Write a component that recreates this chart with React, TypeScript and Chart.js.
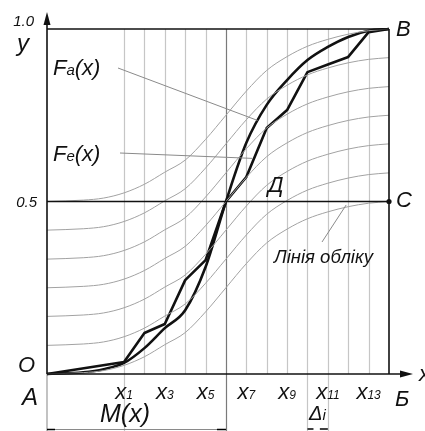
import React, { useEffect, useRef } from "react";
import { Chart, registerables } from "chart.js";

Chart.register(...registerables);

// Grid positions (in units of the x_i grid step); A is at the left edge
const gridIndex = [-2.78, -1, 0, 1, 2, 3, 4, 5, 6, 7, 8, 9, 10, 11, 12, 13, 14];
// Smooth theoretical distribution F_a(x)
const faValues = [0, 0.005, 0.014, 0.032, 0.075, 0.133, 0.185, 0.31, 0.5, 0.67, 0.78, 0.852, 0.91, 0.948, 0.977, 0.995, 1];
// Empirical distribution F_e(x) (polyline)
const feIndex = [-2.78, 1, 2, 3, 4, 5, 6, 7, 8, 9, 10, 11, 12, 13, 14];
const feValues = [0, 0.035, 0.119, 0.145, 0.272, 0.33, 0.5, 0.571, 0.713, 0.765, 0.875, 0.897, 0.919, 0.991, 1];
// Family of thin "accounting lines": base curve and its vertical offsets
const baseCurve = [0, 0.004, 0.01, 0.025, 0.05, 0.085, 0.12, 0.18, 0.25, 0.32, 0.38, 0.42, 0.45, 0.47, 0.485, 0.495, 0.5];
const curveOffsets = [0, 0.083, 0.167, 0.25, 0.333, 0.417, 0.5];
// Vertical grid lines x_1..x_13, labelled ones, mean M(x), and Δi interval
const gridLines = [1, 2, 3, 4, 5, 6, 7, 8, 9, 10, 11, 12, 13];
const labelledTicks = [1, 3, 5, 7, 9, 11, 13];
const meanIndex = 6;
const deltaInterval = [10, 11];
const xMin = -2.78;
const xMax = 14;

const FONT = '"Liberation Sans", Arial, sans-serif';

function font(size: number) {
  return `italic ${size}px ${FONT}`;
}

function drawComposite(
  ctx: CanvasRenderingContext2D,
  parts: [string, number][],
  x: number,
  baseline: number,
  align: "left" | "center"
) {
  let total = 0;
  for (const [t, s] of parts) {
    ctx.font = font(s);
    total += ctx.measureText(t).width;
  }
  let cx = align === "center" ? x - total / 2 : x;
  ctx.textAlign = "left";
  ctx.textBaseline = "alphabetic";
  for (const [t, s] of parts) {
    ctx.font = font(s);
    ctx.fillText(t, cx, baseline);
    cx += ctx.measureText(t).width;
  }
}

function line(ctx: CanvasRenderingContext2D, x1: number, y1: number, x2: number, y2: number, color: string, w: number) {
  ctx.save();
  ctx.strokeStyle = color;
  ctx.lineWidth = w;
  ctx.beginPath();
  ctx.moveTo(x1, y1);
  ctx.lineTo(x2, y2);
  ctx.stroke();
  ctx.restore();
}

const decorPlugin = {
  id: "decor",
  beforeDatasetsDraw(chart: any) {
    const { ctx, chartArea: a, scales } = chart;
    const xs = scales.x;
    const H = chart.height;
    for (const g of gridLines) {
      const px = Math.round(xs.getPixelForValue(g)) + 0.5;
      const isMean = g === meanIndex;
      const extend = g === 1 || isMean || deltaInterval.includes(g);
      line(ctx, px, a.top, px, extend ? H : a.bottom, isMean ? "#7a7a7a" : "#c6c6c6", 1.2);
    }
    // left axis continuation below
    line(ctx, a.left, a.bottom, a.left, H, "#9a9a9a", 1.2);
    // M(x) dimension line
    const mx = xs.getPixelForValue(meanIndex);
    line(ctx, a.left, H - 1.5, mx, H - 1.5, "#8a8a8a", 1);
    line(ctx, a.left, H - 1.5, a.left + 8, H - 1.5, "#000", 1.5);
    line(ctx, mx - 9, H - 1.5, mx, H - 1.5, "#000", 1.5);
    // Δi arrows
    const d1 = xs.getPixelForValue(deltaInterval[0]);
    const d2 = xs.getPixelForValue(deltaInterval[1]);
    line(ctx, d1, H - 2, d1 + 6, H - 2, "#000", 1.5);
    line(ctx, d2 - 8, H - 2, d2, H - 2, "#000", 1.5);
  },
  afterDatasetsDraw(chart: any) {
    const { ctx, scales } = chart;
    const xs = scales.x;
    const ys = scales.y;
    const yTop = ys.getPixelForValue(1);
    const yHalf = ys.getPixelForValue(0.5);
    const yBot = ys.getPixelForValue(0);
    const xL = xs.getPixelForValue(xMin);
    const xR = xs.getPixelForValue(xMax);

    // frame lines
    line(ctx, xL, yTop, xR, yTop, "#111", 1.6);
    line(ctx, xR, yTop, xR, yBot, "#111", 1.6);
    line(ctx, xL, yHalf, xR, yHalf, "#111", 1.6);
    // axes
    line(ctx, xL, yBot, xL, 22, "#111", 1.6);
    line(ctx, xL, yBot, 404, yBot, "#111", 1.6);
    ctx.save();
    ctx.fillStyle = "#111";
    ctx.beginPath();
    ctx.moveTo(xL, 12);
    ctx.lineTo(xL - 3.5, 25);
    ctx.lineTo(xL + 3.5, 25);
    ctx.closePath();
    ctx.fill();
    ctx.beginPath();
    ctx.moveTo(413, yBot);
    ctx.lineTo(400, yBot - 3.5);
    ctx.lineTo(400, yBot + 3.5);
    ctx.closePath();
    ctx.fill();
    // point C
    ctx.beginPath();
    ctx.arc(xR, yHalf, 2.6, 0, Math.PI * 2);
    ctx.fill();
    ctx.restore();

    // pointer lines
    line(ctx, 118, 68, xs.getPixelForValue(7.55), ys.getPixelForValue(0.735), "#8a8a8a", 1);
    line(ctx, 120, 153, xs.getPixelForValue(7.3), ys.getPixelForValue(0.625), "#8a8a8a", 1);
    line(ctx, 322, 242, xs.getPixelForValue(11.9), ys.getPixelForValue(0.49), "#8a8a8a", 1);

    ctx.save();
    ctx.fillStyle = "#111";
    // y-axis labels
    ctx.font = font(15);
    ctx.textAlign = "right";
    ctx.textBaseline = "alphabetic";
    ctx.fillText("1.0", 34, ys.getPixelForValue(1) - 3);
    ctx.fillText("0.5", 37, ys.getPixelForValue(0.5) + 5);
    drawComposite(ctx, [["y", 24]], 17, 51, "left");
    drawComposite(ctx, [["F", 22], ["a", 15], ["(x)", 22]], 53, 75, "left");
    drawComposite(ctx, [["F", 22], ["e", 15], ["(x)", 22]], 53, 161, "left");
    drawComposite(ctx, [["O", 22]], 18, 372, "left");
    drawComposite(ctx, [["A", 24]], 22, 405, "left");
    for (const t of labelledTicks) {
      drawComposite(ctx, [["x", 22], [String(t), 12]], xs.getPixelForValue(t), 399, "center");
    }
    drawComposite(ctx, [["M(x)", 25]], 100, 422, "left");
    drawComposite(ctx, [["Δ", 20], ["i", 15]], 309, 420, "left");
    drawComposite(ctx, [["Б", 22]], 395, 406, "left");
    drawComposite(ctx, [["B", 22]], 396, 36, "left");
    drawComposite(ctx, [["C", 22]], 396, 207, "left");
    drawComposite(ctx, [["Д", 22]], 268, 192, "left");
    drawComposite(ctx, [["Лінія обліку", 18.5]], 274, 263, "left");
    drawComposite(ctx, [["x", 22]], 419, 381, "left");
    ctx.restore();
  },
};

export default function App() {
  const ref = useRef<HTMLCanvasElement | null>(null);
  useEffect(() => {
    if (!ref.current) return;
    const thin = curveOffsets.map((c) => ({
      data: gridIndex.map((g, i) => ({ x: g, y: c + baseCurve[i] })),
      borderColor: "#a2a2a2",
      borderWidth: 1,
      pointRadius: 0,
      cubicInterpolationMode: "monotone" as const,
      clip: false as any,
    }));
    const chart = new Chart(ref.current, {
      type: "line",
      data: {
        datasets: [
          ...thin,
          {
            data: gridIndex.map((g, i) => ({ x: g, y: faValues[i] })),
            borderColor: "#111",
            borderWidth: 2.6,
            pointRadius: 0,
            cubicInterpolationMode: "monotone",
            clip: false as any,
          },
          {
            data: feIndex.map((g, i) => ({ x: g, y: feValues[i] })),
            borderColor: "#111",
            borderWidth: 2.6,
            pointRadius: 0,
            tension: 0,
            borderJoinStyle: "round",
            clip: false as any,
          },
        ] as any,
      },
      options: {
        animation: false,
        responsive: false,
        devicePixelRatio: 1,
        layout: { padding: { left: 47, right: 36, top: 29, bottom: 57 } },
        plugins: { legend: { display: false }, tooltip: { enabled: false } },
        events: [],
        scales: {
          x: { type: "linear", min: xMin, max: xMax, display: false },
          y: { type: "linear", min: 0, max: 1, display: false },
        },
      },
      plugins: [decorPlugin],
    });
    return () => chart.destroy();
  }, []);
  return (
    <div style={{ position: "absolute", left: 0, top: 0, width: 425, height: 431, background: "#fff" }}>
      <canvas ref={ref} width={425} height={431} style={{ width: 425, height: 431, display: "block" }} />
    </div>
  );
}
